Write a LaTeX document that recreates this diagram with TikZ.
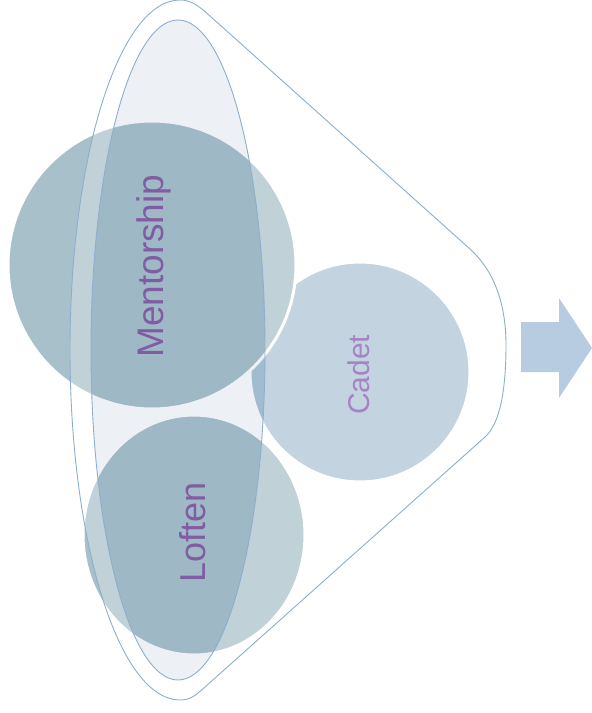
\documentclass[tikz,border=0pt]{standalone}
\usepackage{fontspec}
\setmainfont{Liberation Sans}
\usetikzlibrary{shapes.geometric}
\definecolor{mentfill}{RGB}{168,192,202}
\definecolor{cadfill}{RGB}{172,196,213}
\definecolor{rimline}{RGB}{140,175,205}
\definecolor{holecol}{RGB}{60,110,150}
\definecolor{txtpurple}{RGB}{128,92,162}
\definecolor{txtlight}{RGB}{165,132,195}
\definecolor{arrowfill}{RGB}{184,204,225}
\def\funnelpath{(180,0) arc[start angle=270, end angle=90, x radius=110, y radius=350]
 .. controls (190,700) and (195,696) .. (205,687) -- (485,437)
 .. controls (500,423.6) and (506,390) .. (506,345)
 .. controls (506,300) and (492,269) .. (470,249) -- (210,16)
 .. controls (200,7) and (192,0) .. (180,0) -- cycle}
\begin{document}
\begin{tikzpicture}[x=1pt,y=-1pt,
  ball/.style={ellipse, draw=white, line width=3pt, inner sep=0pt},
  lbl/.style={font=\fontsize{#1}{#1}\selectfont, rotate=90, anchor=base west, inner sep=0pt},
  outline/.style={draw=rimline, line width=0.9pt}]
\fill[white] (0,0) rectangle (592,713);
\useasboundingbox (0,0) rectangle (592,713);
% circles
\node[ball, fill=cadfill, minimum width=220pt, minimum height=220pt] (cadet) at (360,372) {};
\node[ball, fill=mentfill, minimum width=222pt, minimum height=240pt] (loften) at (194,535) {};
\node[ball, fill=mentfill, minimum width=288pt, minimum height=288pt] (ment) at (152,265) {};
% funnel body overlay and opening
\fill[white, opacity=0.28, even odd rule] \funnelpath (178,350) ellipse[x radius=87, y radius=330];
\fill[holecol, opacity=0.09] (178,350) ellipse[x radius=87, y radius=330];
\draw[outline] \funnelpath;
\draw[outline] (178,350) ellipse[x radius=87, y radius=330];
% arrow
\fill[arrowfill] (521,322) -- (559,322) -- (559,298) -- (592,348) -- (559,398) -- (559,372) -- (521,372) -- cycle;
% labels
\node[lbl=37, text=txtpurple] (tment) at (163,358) {Mentorship};
\node[lbl=36, text=txtpurple] (tloft) at (205,583) {Loften};
\node[lbl=30, text=txtlight] (tcad) at (369,415) {Cadet};
\end{tikzpicture}
\end{document}
